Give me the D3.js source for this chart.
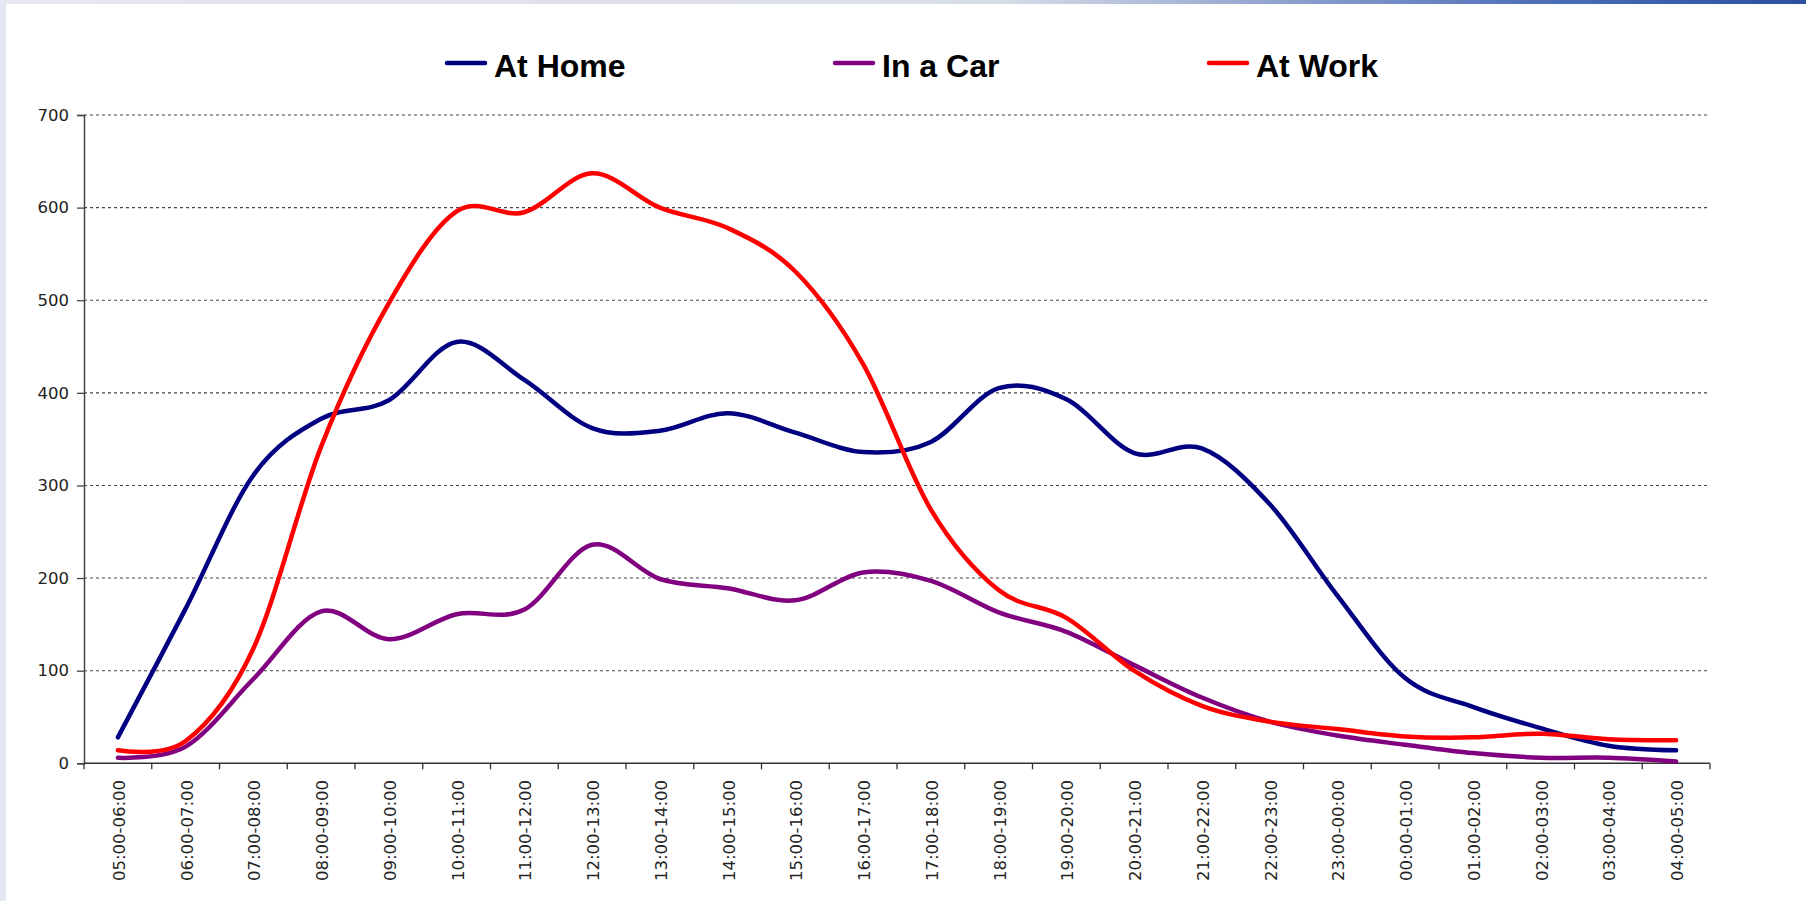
<!DOCTYPE html>
<html>
<head>
<meta charset="utf-8">
<script src="https://cdn.jsdelivr.net/npm/d3@7"></script>
<style>
  html, body { margin: 0; padding: 0; background: #ffffff; }
  svg { display: block; }
</style>
</head>
<body>
<svg id="chart" width="1806" height="901"></svg>
<script>
const categories = ["05:00-06:00","06:00-07:00","07:00-08:00","08:00-09:00","09:00-10:00","10:00-11:00",
  "11:00-12:00","12:00-13:00","13:00-14:00","14:00-15:00","15:00-16:00","16:00-17:00",
  "17:00-18:00","18:00-19:00","19:00-20:00","20:00-21:00","21:00-22:00","22:00-23:00",
  "23:00-00:00","00:00-01:00","01:00-02:00","02:00-03:00","03:00-04:00","04:00-05:00"];
const atHome = [28, 167, 311, 372, 392, 455, 414, 362, 359, 378, 357, 336, 347, 405, 393, 335, 340, 280, 181, 92, 61, 38, 19, 14];
const inACar = [6, 18, 91, 164, 134, 161, 166, 236, 199, 189, 176, 206, 197, 163, 142, 106, 71, 45, 30, 20, 11, 6, 6, 2];
const atWork = [14, 24, 124, 342, 497, 596, 595, 637, 600, 578, 531, 431, 274, 187, 157, 100, 62, 45, 37, 29, 28, 32, 26, 25];
const seriesNames = ["At Home", "In a Car", "At Work"];
const seriesColors = ["#000080", "#800080", "#ff0000"];
const yTicks = [0, 100, 200, 300, 400, 500, 600, 700];

(function () {
const svg = d3.select("#chart");

// window-frame artefacts
const defs = svg.append("defs");
const g1 = defs.append("linearGradient").attr("id", "topg").attr("x1", 0).attr("x2", 1);
g1.append("stop").attr("offset", "0").attr("stop-color", "#e6e8ee");
g1.append("stop").attr("offset", "0.55").attr("stop-color", "#d9dde8");
g1.append("stop").attr("offset", "0.85").attr("stop-color", "#4e6fb8");
g1.append("stop").attr("offset", "1").attr("stop-color", "#2c4f9e");
svg.append("rect").attr("x", 0).attr("y", 0).attr("width", 1806).attr("height", 4).attr("fill", "url(#topg)");
svg.append("rect").attr("x", 0).attr("y", 0).attr("width", 6).attr("height", 901).attr("fill", "#e3e7f1");

const pLeft = 84, pRight = 1710, pTop = 115, pBottom = 763.3;

const x = d3.scalePoint().domain(categories).range([pLeft, pRight]).padding(0.5);
const y = d3.scaleLinear().domain([0, 700]).range([pBottom, pTop]);

// gridlines
svg.append("g").selectAll("line").data(yTicks.filter(d => d > 0)).join("line")
  .attr("x1", pLeft).attr("x2", pRight - 2)
  .attr("y1", d => y(d)).attr("y2", d => y(d))
  .attr("stroke", "#444").attr("stroke-width", 1.1).attr("stroke-dasharray", "3,3");

// y axis
const yAxis = d3.axisLeft(y).tickValues(yTicks).tickSize(7).tickPadding(8);
const ya = svg.append("g").attr("transform", `translate(${pLeft},0)`).call(yAxis);
ya.select(".domain").attr("stroke", "#444").attr("stroke-width", 1.5);
ya.selectAll(".tick line").attr("stroke", "#444").attr("stroke-width", 1.3);
ya.selectAll(".tick text").attr("font-family", "'DejaVu Sans', Verdana, sans-serif")
  .attr("font-size", "16.5px").attr("fill", "#222");

// x axis
const step = x.step();
const boundaries = d3.range(categories.length + 1).map(i => pLeft + i * step);
const xa = svg.append("g");
xa.append("line").attr("x1", pLeft).attr("x2", pRight).attr("y1", pBottom).attr("y2", pBottom)
  .attr("stroke", "#333").attr("stroke-width", 1.5);
xa.selectAll("line.tk").data(boundaries).join("line").attr("class", "tk")
  .attr("x1", d => d).attr("x2", d => d).attr("y1", pBottom).attr("y2", pBottom + 6)
  .attr("stroke", "#333").attr("stroke-width", 1.3);
xa.selectAll("text").data(categories).join("text")
  .attr("transform", d => `translate(${x(d) + 1},780) rotate(-90)`)
  .attr("text-anchor", "end").attr("dy", "0.36em")
  .attr("font-family", "'DejaVu Sans', Verdana, sans-serif")
  .attr("font-size", "16.5px").attr("fill", "#222")
  .text(d => d);

// lines
const line = d3.line().x((d, i) => x(categories[i])).y(d => y(d)).curve(d3.curveCardinal.tension(0));
const allSeries = [atHome, inACar, atWork];
svg.append("g").selectAll("path").data(allSeries).join("path")
  .attr("d", d => line(d))
  .attr("fill", "none")
  .attr("stroke", (d, i) => seriesColors[i])
  .attr("stroke-width", 4.5)
  .attr("stroke-linejoin", "round")
  .attr("stroke-linecap", "round");

// legend
const legendX = [447, 835, 1209];
const lg = svg.append("g").selectAll("g").data(seriesNames).join("g")
  .attr("transform", (d, i) => `translate(${legendX[i]},0)`);
lg.append("line").attr("x1", 0).attr("x2", 38).attr("y1", 63).attr("y2", 63)
  .attr("stroke", (d, i) => seriesColors[i]).attr("stroke-width", 4.5).attr("stroke-linecap", "round");
lg.append("text").attr("x", 47).attr("y", 77)
  .attr("font-family", "'Liberation Sans', Arial, sans-serif").attr("font-weight", "bold")
  .attr("font-size", "32px").attr("fill", "#000")
  .text(d => d);
})();
</script>
</body>
</html>
